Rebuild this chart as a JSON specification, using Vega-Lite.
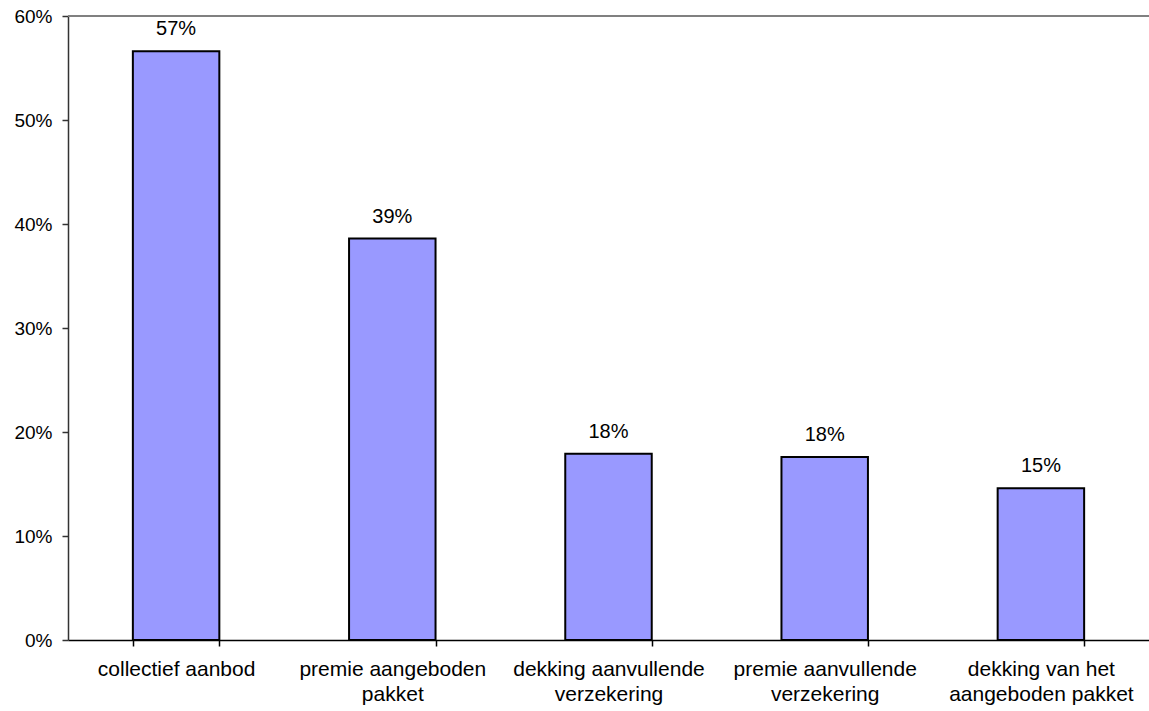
{
  "$schema": "https://vega.github.io/schema/vega-lite/v6.json",
  "width": 1081,
  "height": 624,
  "autosize": "none",
  "padding": {"left": 68, "top": 16, "right": 0, "bottom": 71},
  "config": {"view": {"stroke": null}, "font": "Liberation Sans", "background": "white"},
  "data": {"values": [
    {"cat": "collectief aanbod", "value": 0.566},
    {"cat": "premie aangeboden|pakket", "value": 0.386},
    {"cat": "dekking aanvullende|verzekering", "value": 0.179},
    {"cat": "premie aanvullende|verzekering", "value": 0.176},
    {"cat": "dekking van het|aangeboden pakket", "value": 0.146}
  ]},
  "layer": [
    {
      "mark": {"type": "rule", "color": "#808080", "strokeWidth": 2},
      "encoding": {"y": {"datum": 0.6, "type": "quantitative"}}
    },
    {
      "mark": {"type": "bar", "color": "#9999FF", "stroke": "black", "strokeWidth": 2},
      "encoding": {
        "x": {"field": "cat", "type": "nominal", "sort": null,
          "scale": {"paddingInner": 0.6, "paddingOuter": 0.3},
          "axis": {"title": null, "labelAngle": 0, "tickBand": "extent", "tickSize": 6,
            "labelPadding": 12, "labelFontSize": 21, "labelColor": "black",
            "domainColor": "black", "domainWidth": 1.5, "tickColor": "black", "tickWidth": 1.5,
            "labelExpr": "split(datum.label, '|')", "labelLineHeight": 25, "labelLimit": 0}},
        "y": {"field": "value", "type": "quantitative",
          "scale": {"domain": [0, 0.6], "nice": false},
          "axis": {"title": null, "format": ".0%", "values": [0, 0.1, 0.2, 0.3, 0.4, 0.5, 0.6],
            "tickSize": 6, "labelPadding": 10, "labelFontSize": 19, "grid": false,
            "domainColor": "#333333", "domainWidth": 1.5, "tickColor": "#333333", "tickWidth": 1.5, "labelColor": "black"}}
      }
    },
    {
      "mark": {"type": "text", "baseline": "alphabetic", "dy": -16, "fontSize": 20, "color": "black"},
      "encoding": {
        "x": {"field": "cat", "type": "nominal", "sort": null},
        "y": {"field": "value", "type": "quantitative"},
        "text": {"field": "value", "type": "quantitative", "format": ".0%"}
      }
    }
  ]
}
